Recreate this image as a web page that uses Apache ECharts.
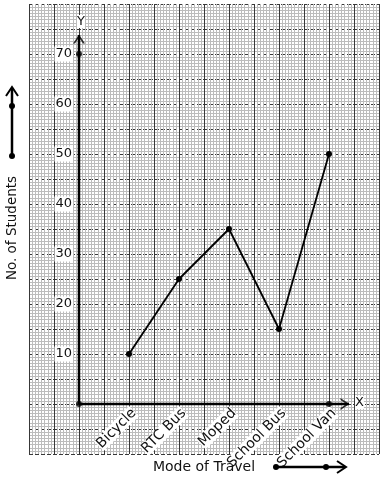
<!DOCTYPE html>
<html><head><meta charset="utf-8">
<script src="https://cdn.jsdelivr.net/npm/echarts@6/dist/echarts.min.js"></script>
<style>html,body{margin:0;padding:0;background:#fff}#c{width:384px;height:480px}</style>
</head><body><div id="c"></div>
<script>
const categories = ['Bicycle', 'RTC Bus', 'Moped', 'School Bus', 'School Van'];
const students = [10, 25, 35, 15, 50];
const yTickLabels = [10, 20, 30, 40, 50, 60, 70];
const yTitle = 'No. of Students';
const xTitle = 'Mode of Travel';

const FONT = 'DejaVu Sans';
const chart = echarts.init(document.getElementById('c'), null, {renderer: 'canvas'});
const chevron = 'path://M0,10 L6,0 L12,10 L10,10 L6,3.3 L2,10 Z';

const lineData = categories.map((c, i) => [i + 1, students[i]]);

chart.setOption({
  animation: false,
  backgroundColor: '#fff',
  grid: {left: 29, top: 4, width: 350, height: 450, show: false},
  xAxis: {
    type: 'value', min: -1, max: 6, interval: 0.5, offset: -50,
    axisLine: {show: false}, axisTick: {show: false},
    axisLabel: {
      rotate: 45, margin: 2, verticalAlign: 'top', fontFamily: FONT, fontSize: 14, color: '#111',
      formatter: v => (Number.isInteger(v) && v >= 1 && v <= categories.length) ? '{b|' + categories[v - 1] + '}' : '',
      rich: {b: {backgroundColor: '#fff', fontFamily: FONT, fontSize: 14, color: '#111'}}
    },
    splitLine: {show: true, lineStyle: {color: '#383838', width: 1}},
    minorTick: {show: false, splitNumber: 8},
    minorSplitLine: {show: true, lineStyle: {color: '#bcbcbc', width: 1}}
  },
  yAxis: {
    type: 'value', min: -10, max: 80, interval: 5, offset: -50,
    axisLine: {show: false}, axisTick: {show: false},
    axisLabel: {
      margin: 6, fontFamily: FONT, fontSize: 13, color: '#111',
      formatter: v => yTickLabels.indexOf(v) >= 0 ? '{b|' + v + '}' : '',
      rich: {b: {backgroundColor: '#fff', fontFamily: FONT, fontSize: 13, color: '#111', padding: [1, 1]}}
    },
    splitLine: {show: true, lineStyle: {color: '#383838', width: 1, type: [4, 2]}},
    minorTick: {show: false, splitNumber: 8},
    minorSplitLine: {show: true, lineStyle: {color: '#bcbcbc', width: 1}}
  },
  series: [
    {type: 'line', data: [[0, 0], [0, 73.8]], symbol: 'none', lineStyle: {color: '#000', width: 2.5}, z: 5},
    {type: 'line', data: [[0, 0], [5.4, 0]], symbol: 'none', lineStyle: {color: '#000', width: 2.5}, z: 5},
    {type: 'scatter', data: [[0, 73]], symbol: chevron, symbolSize: [12, 9], itemStyle: {color: '#000'}, z: 6},
    {type: 'scatter', data: [[5.32, 0]], symbol: chevron, symbolSize: [12, 9], symbolRotate: -90, itemStyle: {color: '#000'}, z: 6},
    {type: 'scatter', data: [[0, 0], [0, 70], [5, 0]], symbol: 'circle', symbolSize: 6, itemStyle: {color: '#000'}, z: 7},
    {type: 'line', data: lineData, symbol: 'circle', symbolSize: 6, showSymbol: true,
      lineStyle: {color: '#000', width: 1.8}, itemStyle: {color: '#000'}, z: 8}
  ],
  graphic: [
    {type: 'text', left: 77, top: 15, style: {text: 'Y', fontFamily: FONT, fontSize: 13, fill: '#111', backgroundColor: '#fff'}, z: 20},
    {type: 'text', left: 355, top: 396, style: {text: 'X', fontFamily: FONT, fontSize: 13, fill: '#111', backgroundColor: '#fff'}, z: 20},
    {type: 'text', x: 12, y: 228, rotation: Math.PI / 2, style: {text: yTitle, fontFamily: FONT, fontSize: 13.5, fill: '#111', align: 'center', verticalAlign: 'middle'}, z: 20},
    {type: 'text', x: 204, y: 467, style: {text: xTitle, fontFamily: FONT, fontSize: 14, fill: '#111', align: 'center', verticalAlign: 'middle'}, z: 20},
    {type: 'line', shape: {x1: 12, y1: 156, x2: 12, y2: 88}, style: {stroke: '#000', lineWidth: 2.5}, z: 20},
    {type: 'polyline', shape: {points: [[6, 96], [12, 87], [18, 96]]}, style: {stroke: '#000', lineWidth: 2, fill: null}, z: 20},
    {type: 'circle', shape: {cx: 12, cy: 156, r: 3}, style: {fill: '#000'}, z: 20},
    {type: 'circle', shape: {cx: 12, cy: 106, r: 3}, style: {fill: '#000'}, z: 20},
    {type: 'line', shape: {x1: 276, y1: 467, x2: 345, y2: 467}, style: {stroke: '#000', lineWidth: 2.5}, z: 20},
    {type: 'polyline', shape: {points: [[337, 461], [346, 467], [337, 473]]}, style: {stroke: '#000', lineWidth: 2, fill: null}, z: 20},
    {type: 'circle', shape: {cx: 276, cy: 467, r: 3}, style: {fill: '#000'}, z: 20},
    {type: 'circle', shape: {cx: 326, cy: 467, r: 3}, style: {fill: '#000'}, z: 20}
  ]
});
</script></body></html>
